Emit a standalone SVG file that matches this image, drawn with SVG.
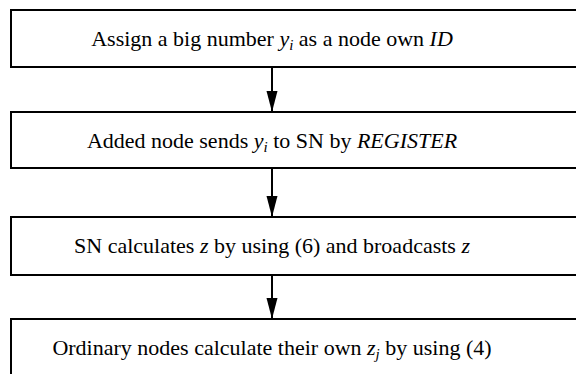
<svg xmlns="http://www.w3.org/2000/svg" width="576" height="374" viewBox="0 0 576 374">
<style>
.box{fill:#fff;stroke:#000;stroke-width:2}
.t{font-family:'Liberation Serif','Times New Roman',serif;font-size:22px;fill:#000;text-anchor:middle}
.i{font-style:italic}
.s{font-style:italic;font-size:15px}
.c{stroke:#000;stroke-width:2;fill:none}
</style>
<defs>
<marker id="ah" markerUnits="userSpaceOnUse" markerWidth="22" markerHeight="12" refX="21" refY="5.5" orient="auto">
<path d="M0,0 L21,5.5 L0,11 Z" fill="#000"/>
</marker>
</defs>
<rect width="576" height="374" fill="#fff"/>
<g id="connectors">
<line class="c" x1="272" y1="67" x2="272" y2="112" marker-end="url(#ah)"/>
<line class="c" x1="272" y1="168" x2="272" y2="217" marker-end="url(#ah)"/>
<line class="c" x1="272" y1="275" x2="272" y2="319" marker-end="url(#ah)"/>
</g>
<g id="n1">
<rect class="box" x="11" y="10" width="580" height="57"/>
<text class="t" x="272" y="46">Assign a big number <tspan class="i">y</tspan><tspan class="s" dy="4">i</tspan><tspan dy="-4"> as a node own </tspan><tspan class="i">ID</tspan></text>
</g>
<g id="n2">
<rect class="box" x="11" y="112" width="580" height="56"/>
<text class="t" x="272" y="148">Added node sends <tspan class="i">y</tspan><tspan class="s" dy="4">i</tspan><tspan dy="-4"> to SN by </tspan><tspan class="i">REGISTER</tspan></text>
</g>
<g id="n3">
<rect class="box" x="11" y="217" width="580" height="58"/>
<text class="t" x="272" y="253">SN calculates <tspan class="i">z</tspan> by using (6) and broadcasts <tspan class="i">z</tspan></text>
</g>
<g id="n4">
<rect class="box" x="11" y="319" width="580" height="60"/>
<text class="t" x="272" y="355">Ordinary nodes calculate their own <tspan class="i">z</tspan><tspan class="s" dy="4">j</tspan><tspan dy="-4"> by using (4)</tspan></text>
</g>
</svg>
